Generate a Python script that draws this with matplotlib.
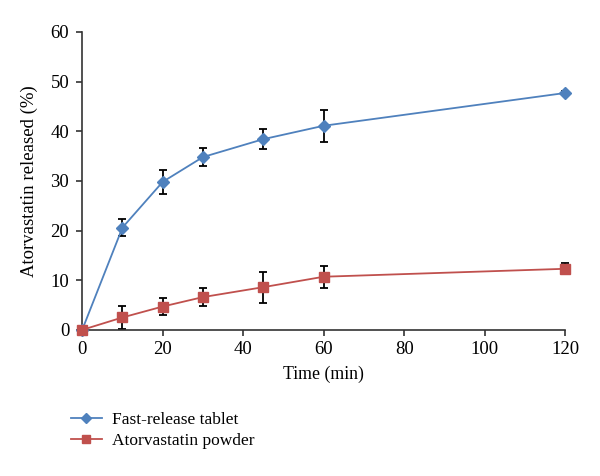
import matplotlib
matplotlib.use("Agg")
import matplotlib.pyplot as plt
from matplotlib.lines import Line2D

time = [0, 10, 20, 30, 45, 60, 120]
tablet = [0, 20.6, 29.8, 34.8, 38.4, 41.1, 47.7]
tablet_err = [0, 1.7, 2.4, 1.9, 2.0, 3.2, 0.4]
powder = [0, 2.5, 4.7, 6.6, 8.6, 10.7, 12.3]
powder_err = [0, 2.3, 1.7, 1.8, 3.1, 2.2, 1.1]
labels = ["Fast-release tablet", "Atorvastatin powder"]

plt.rcParams['font.family'] = ['Liberation Serif', 'DejaVu Serif']

fig = plt.figure(figsize=(6, 4.76), dpi=100)
ax = fig.add_axes([0.137, 0.307, 0.805, 0.626])

blue = '#4F81BD'
red = '#C0504D'

series = [(tablet, tablet_err, blue, 'D', 6), (powder, powder_err, red, 's', 7)]
for vals, err, col, mk, ms in series:
    ax.errorbar(time, vals, yerr=err, fmt='none', ecolor='black', elinewidth=1.3,
                capsize=3, capthick=1.3, zorder=2, clip_on=False)
    ax.plot(time, vals, color=col, marker=mk, markersize=ms, lw=1.3,
            zorder=3, clip_on=False)

ax.set_xlim(0, 120)
ax.set_ylim(0, 60)
ax.set_xticks(range(0, 121, 20))
ax.set_yticks(range(0, 61, 10))
ax.spines['top'].set_visible(False)
ax.spines['right'].set_visible(False)
for s in ('left', 'bottom'):
    ax.spines[s].set_color('#333333')
    ax.spines[s].set_linewidth(1.2)
ax.tick_params(direction='out', length=4.3, width=1.2, color='#333333',
               labelsize=13.5)
ax.tick_params(axis='y', pad=5)
ax.tick_params(axis='x', pad=4)
ax.set_xlabel('Time (min)', fontsize=12.8, labelpad=5)
ax.set_ylabel('Atorvastatin released (%)', fontsize=13.5, labelpad=9)

handles = [Line2D([], [], color=c, marker=m, markersize=ms * 0.85, lw=1.3)
           for _, _, c, m, ms in series]
fig.legend(handles, labels, loc='upper left', bbox_to_anchor=(0.118, 0.135),
           frameon=False, fontsize=12.5, handlelength=1.8, handletextpad=0.6,
           borderpad=0, borderaxespad=0, labelspacing=0.3)

fig.savefig('out.png', dpi=100)
